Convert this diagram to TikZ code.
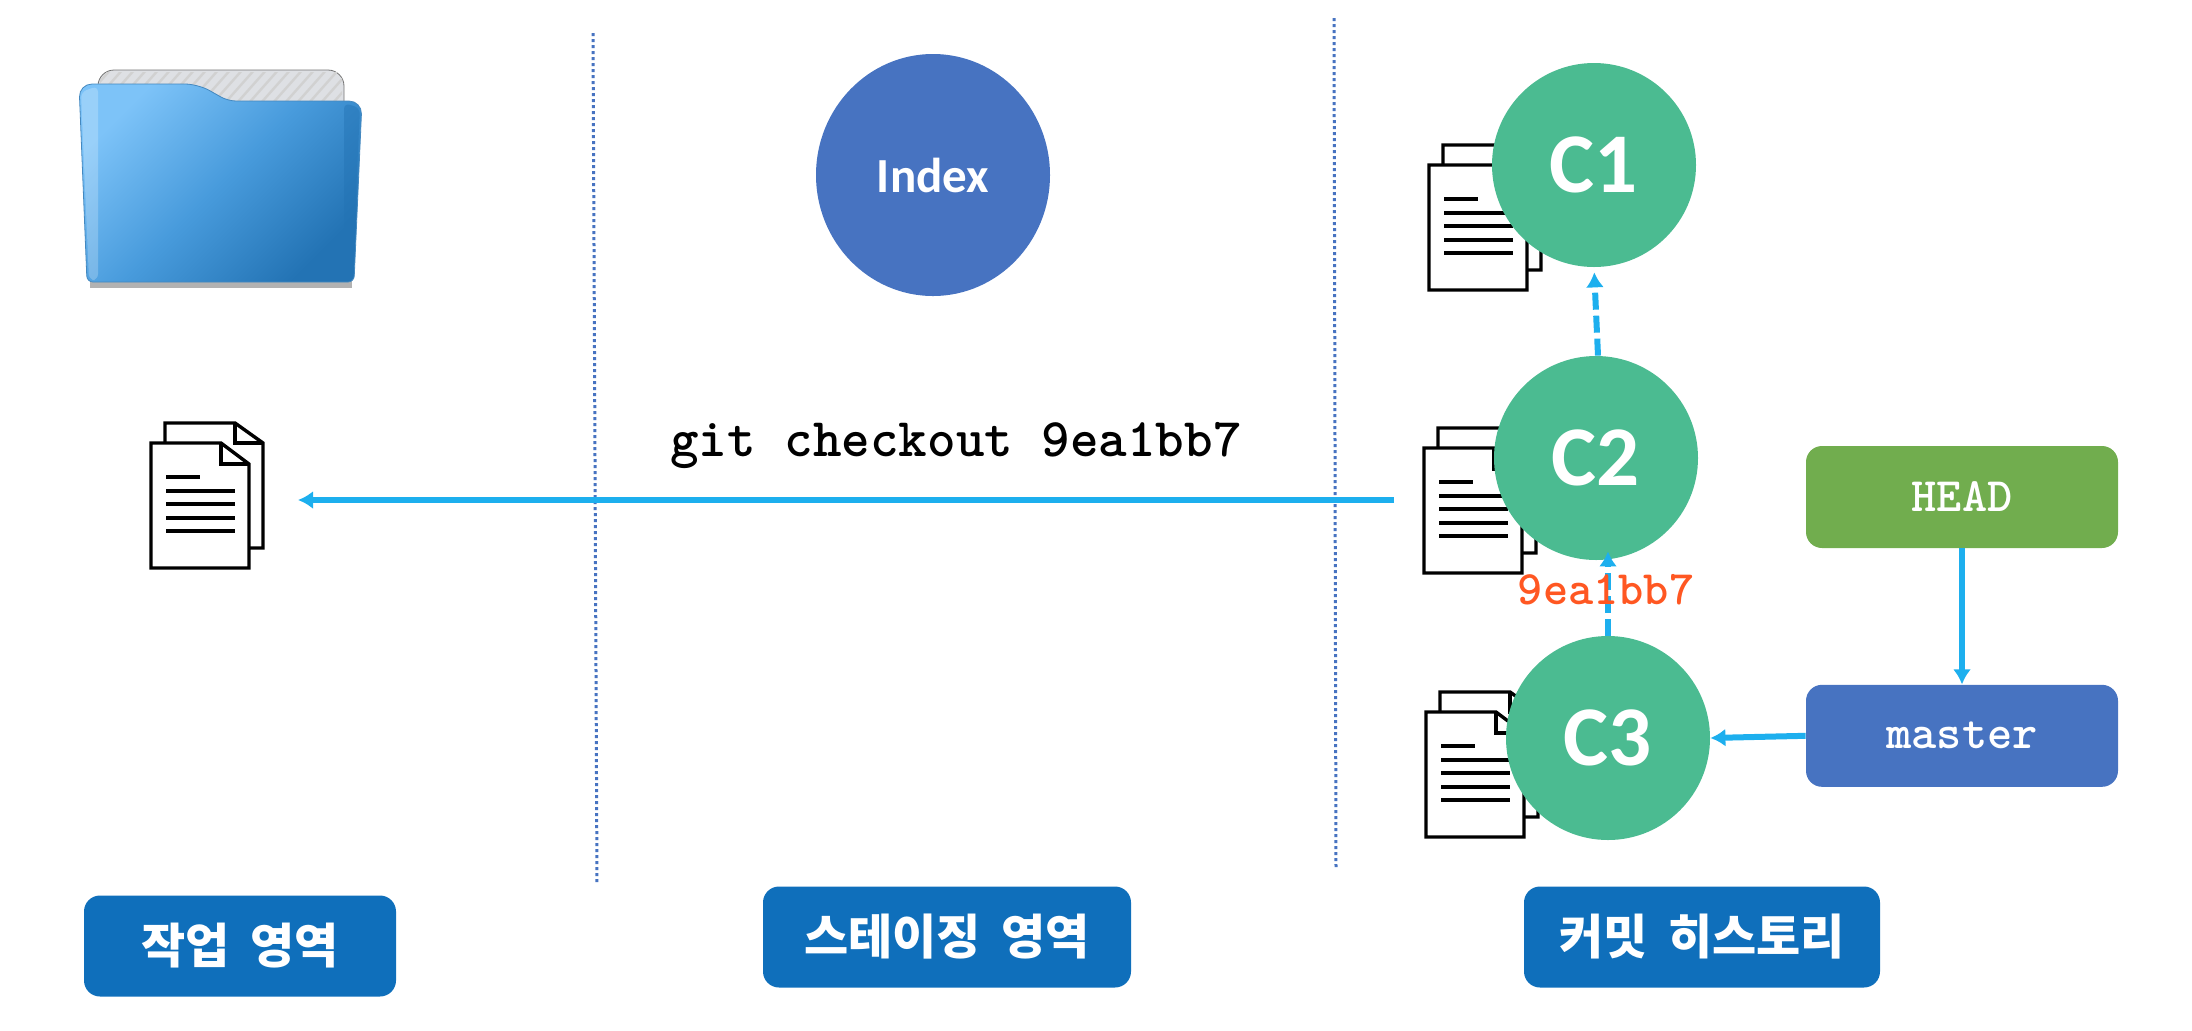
\documentclass[tikz,border=0pt]{standalone}
\usepackage{fontspec}
\newfontfamily\krfont{Noto Sans CJK KR}
\newfontfamily\capfont{Carlito}
\usetikzlibrary{arrows.meta, positioning, calc, shapes.geometric}
\definecolor{indexblue}{RGB}{71,115,193}
\definecolor{headgreen}{RGB}{113,173,78}
\definecolor{commitgreen}{RGB}{75,187,145}
\definecolor{areablue}{RGB}{15,111,187}
\definecolor{arrowblue}{RGB}{29,175,238}
\definecolor{hashorange}{RGB}{255,87,34}
\definecolor{foldlight}{RGB}{125,195,248}
\definecolor{foldmid}{RGB}{72,155,220}
\definecolor{folddark}{RGB}{35,115,180}
\definecolor{sheetgray}{RGB}{222,224,228}

\begin{document}
\begin{tikzpicture}[
  x=0.5pt, y=-0.5pt,
  commit/.style={circle, fill=commitgreen, minimum size=102pt, inner sep=0pt,
            text=white, font=\capfont\bfseries\fontsize{42.5}{44}\selectfont},
  ref/.style={rounded corners=8pt, minimum width=156pt, minimum height=51pt,
            inner sep=0pt, text=white, font=\ttfamily\bfseries\fontsize{24}{26}\selectfont},
  area/.style={rounded corners=8pt, fill=areablue, minimum height=50.5pt, inner sep=0pt,
            text=white, font=\krfont\bfseries\fontsize{24}{26}\selectfont},
  a/.style={-{Latex[length=7.5pt, width=9pt]}, line width=3pt, arrowblue},
  da/.style={a, dash pattern=on 8.5pt off 3pt},
  divider/.style={line width=1.5pt, indexblue, dash pattern=on 1.5pt off 1.5pt},
  docs/.pic={
    \draw[line width=1.7pt, fill=white, miter limit=10]
      (14,-20) -- (84,-20) -- (112,0) -- (112,105) -- (98,105) -- (14,105) -- cycle;
    \draw[line width=1.7pt] (84,-20) -- (84,0) -- (112,0);
    \draw[line width=1.7pt, fill=white]
      (0,0) -- (70,0) -- (98,21) -- (98,125) -- (0,125) -- cycle;
    \draw[line width=1.7pt] (70,0) -- (70,21) -- (98,21);
    \draw[line width=1.7pt] (15,34) -- (49,34);
    \foreach \y in {48,61,75,88}
      {\draw[line width=1.7pt] (15,\y) -- (84,\y);}
  }
]
\useasboundingbox (0,0) rectangle (2192,1030);

% ---------- folder ----------
\fill[black!30] (90,276) rectangle (352,288);
\draw[black!55, fill=sheetgray, rounded corners=8pt]
  (98,120) -- (98,70) -- (344,70) -- (344,120) -- cycle;
\begin{scope}
  \clip (100,72) rectangle (342,100);
  \foreach \i in {0,12,...,276}
    {\draw[black!18, line width=1.2pt] (80+\i,104) -- (112+\i,68);}
\end{scope}
\shade[top color=foldlight, bottom color=folddark, middle color=foldmid, shading angle=45,
       draw=folddark!85]
  [rounded corners=6.5pt] (79,84) -- (198,84) [rounded corners=4pt] -- (228,101)
  [rounded corners=6.5pt] -- (362,101) [rounded corners=3pt] -- (354,282) -- (87,282)
  [rounded corners=6.5pt] -- cycle;
\fill[white, opacity=.22, rounded corners=3pt]
  (81,92) -- (98,86) -- (98,280) -- (89,280) -- cycle;
\fill[folddark, opacity=.45, rounded corners=3pt]
  (344,103) -- (360,108) -- (352,280) -- (344,280) -- cycle;

% ---------- dividers ----------
\coordinate (d1top) at (593,33);
\coordinate (d1bot) at (597,884);
\coordinate (d2top) at (1334,18);
\coordinate (d2bot) at (1336,870);
\draw[divider] (d1top) -- (d1bot);
\draw[divider] (d2top) -- (d2bot);

% ---------- file icons ----------
\pic at (151,443) {docs};
\pic at (1429,165) {docs};
\pic at (1424,448) {docs};
\pic at (1426,712) {docs};

% ---------- index and commits ----------
\node[ellipse, fill=indexblue, minimum width=117pt, minimum height=121pt, inner sep=0pt,
      text=white, font=\capfont\bfseries\fontsize{24.5}{26}\selectfont] (index) at (933,175) {Index};
\node[commit] (c1) at (1594,165) {C1};
\node[commit] (c2) at (1596,458) {C2};
\node[commit] (c3) at (1608,738) {C3};

\node[ref, fill=headgreen] (head) at (1962,497) {HEAD};
\node[ref, fill=indexblue, below=68pt of head] (master) {master};

% ---------- area labels ----------
\node[area, minimum width=156pt] (work) at (240,946) {작업\hspace{.2em} 영역};
\node[area, minimum width=184pt] (stage) at (947,937) {스테이징\hspace{.2em} 영역};
\node[area, minimum width=178pt] (hist) at (1702,937) {커밋\hspace{.2em} 히스토리};

% ---------- arrows ----------
\coordinate (src) at (1394,500);
\coordinate (dst) at (298,500);
\draw[a] (src) -- (dst);
\draw[da, shorten >=2.5pt] (c2.north) ++(2,0) -- (c1.south);
\draw[da, shorten >=-4.5pt] (c3.north) -- (c3.north |- c2.south);
\draw[a] (head.south) -- (master.north);
\draw[a] (master.west) -- (c3.east);

\node[font=\ttfamily\bfseries\fontsize{27.2}{29}\selectfont] (cmd) at (956,445) {git checkout 9ea1bb7};
\node[text=hashorange, font=\ttfamily\bfseries\fontsize{24}{26}\selectfont] (hash) at (1606,590) {9ea1bb7};
\end{tikzpicture}
\end{document}
